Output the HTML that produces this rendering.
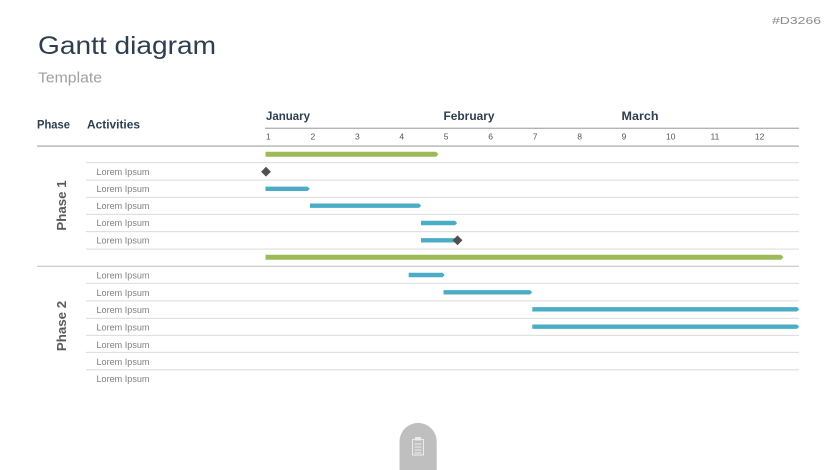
<!DOCTYPE html>
<html>
<head>
<meta charset="utf-8">
<style>
html,body{margin:0;padding:0;background:#fff;}
body{width:836px;height:470px;overflow:hidden;}
svg{display:block;}
text{font-family:"Liberation Sans",sans-serif;}
</style>
</head>
<body>
<svg width="836" height="470" viewBox="0 0 836 470" xmlns="http://www.w3.org/2000/svg">
  <!-- top right code -->
  <text x="772" y="24" font-size="10.5" fill="#8a8a8a" textLength="49" lengthAdjust="spacingAndGlyphs">#D3266</text>
  <!-- title -->
  <text x="38" y="54" font-size="25" fill="#2c3e50" textLength="178" lengthAdjust="spacingAndGlyphs">Gantt diagram</text>
  <text x="38" y="82.5" font-size="15" fill="#a0a0a0" textLength="64" lengthAdjust="spacingAndGlyphs">Template</text>

  <!-- header -->
  <g font-weight="bold" fill="#2d3e50" font-size="11.5">
    <text x="37" y="128.3" textLength="33" lengthAdjust="spacingAndGlyphs">Phase</text>
    <text x="87" y="128.3" textLength="53" lengthAdjust="spacingAndGlyphs">Activities</text>
    <text x="266" y="120" textLength="44" lengthAdjust="spacingAndGlyphs">January</text>
    <text x="443.5" y="120" textLength="51" lengthAdjust="spacingAndGlyphs">February</text>
    <text x="621.5" y="120" textLength="37" lengthAdjust="spacingAndGlyphs">March</text>
  </g>
  <rect x="265" y="127.6" width="534" height="1.4" fill="#b5b5b5"/>
  <g font-size="8.5" fill="#555">
    <text x="266" y="139.3">1</text>
    <text x="310.5" y="139.3">2</text>
    <text x="355" y="139.3">3</text>
    <text x="399.4" y="139.3">4</text>
    <text x="443.8" y="139.3">5</text>
    <text x="488.3" y="139.3">6</text>
    <text x="532.7" y="139.3">7</text>
    <text x="577.2" y="139.3">8</text>
    <text x="621.6" y="139.3">9</text>
    <text x="666" y="139.3">10</text>
    <text x="710.5" y="139.3">11</text>
    <text x="754.9" y="139.3">12</text>
  </g>

  <!-- main lines -->
  <rect x="37" y="145.4" width="762" height="1.4" fill="#b5b5b5"/>
  <rect x="37" y="265.7" width="762" height="1.3" fill="#cfcfcf"/>

  <!-- row separators -->
  <g fill="#e0e0e0">
    <rect x="86" y="162" width="713" height="1.2"/>
    <rect x="86" y="179.5" width="713" height="1.2"/>
    <rect x="86" y="196.8" width="713" height="1.2"/>
    <rect x="86" y="213.8" width="713" height="1.2"/>
    <rect x="86" y="231" width="713" height="1.2"/>
    <rect x="86" y="248.5" width="713" height="1.2"/>
    <rect x="86" y="282.8" width="713" height="1.2"/>
    <rect x="86" y="300.3" width="713" height="1.2"/>
    <rect x="86" y="317.8" width="713" height="1.2"/>
    <rect x="86" y="334.8" width="713" height="1.2"/>
    <rect x="86" y="351.8" width="713" height="1.2"/>
    <rect x="86" y="369.2" width="713" height="1.2"/>
  </g>

  <!-- activity labels -->
  <g font-size="9" fill="#808080">
    <text x="96.5" y="174.9" textLength="53" lengthAdjust="spacingAndGlyphs">Lorem Ipsum</text>
    <text x="96.5" y="191.9" textLength="53" lengthAdjust="spacingAndGlyphs">Lorem Ipsum</text>
    <text x="96.5" y="208.9" textLength="53" lengthAdjust="spacingAndGlyphs">Lorem Ipsum</text>
    <text x="96.5" y="226.2" textLength="53" lengthAdjust="spacingAndGlyphs">Lorem Ipsum</text>
    <text x="96.5" y="243.5" textLength="53" lengthAdjust="spacingAndGlyphs">Lorem Ipsum</text>
    <text x="96.5" y="278.5" textLength="53" lengthAdjust="spacingAndGlyphs">Lorem Ipsum</text>
    <text x="96.5" y="295.9" textLength="53" lengthAdjust="spacingAndGlyphs">Lorem Ipsum</text>
    <text x="96.5" y="313.2" textLength="53" lengthAdjust="spacingAndGlyphs">Lorem Ipsum</text>
    <text x="96.5" y="330.5" textLength="53" lengthAdjust="spacingAndGlyphs">Lorem Ipsum</text>
    <text x="96.5" y="347.9" textLength="53" lengthAdjust="spacingAndGlyphs">Lorem Ipsum</text>
    <text x="96.5" y="364.9" textLength="53" lengthAdjust="spacingAndGlyphs">Lorem Ipsum</text>
    <text x="96.5" y="382.2" textLength="53" lengthAdjust="spacingAndGlyphs">Lorem Ipsum</text>
  </g>

  <!-- phase labels -->
  <g font-size="13.3" font-weight="bold" fill="#595959">
    <text transform="translate(61,205.5) rotate(-90)" x="0" y="4.8" text-anchor="middle">Phase 1</text>
    <text transform="translate(61,326) rotate(-90)" x="0" y="4.8" text-anchor="middle">Phase 2</text>
  </g>

  <!-- green summary bars -->
  <g fill="#9bbb59">
    <path d="M265.5 151.8 L436 151.8 L438.5 154.3 L436 156.8 L265.5 156.8 Z"/>
    <path d="M265.5 254.8 L781 254.8 L783.5 257.3 L781 259.8 L265.5 259.8 Z"/>
  </g>

  <!-- blue bars -->
  <g fill="#4bacc6">
    <path d="M265.5 186.6 L307.5 186.6 L309.8 188.8 L307.5 191 L265.5 191 Z"/>
    <path d="M310 203.5 L419 203.5 L421.2 205.7 L419 207.9 L310 207.9 Z"/>
    <path d="M421 220.8 L455 220.8 L457.2 223 L455 225.2 L421 225.2 Z"/>
    <path d="M421 238.1 L455 238.1 L457.2 240.3 L455 242.5 L421 242.5 Z"/>
    <path d="M408.7 272.8 L442.5 272.8 L444.7 275 L442.5 277.2 L408.7 277.2 Z"/>
    <path d="M443.5 290.1 L530 290.1 L532.2 292.3 L530 294.5 L443.5 294.5 Z"/>
    <path d="M532.3 307.1 L797 307.1 L799.2 309.3 L797 311.5 L532.3 311.5 Z"/>
    <path d="M532.3 324.5 L797 324.5 L799.2 326.7 L797 328.9 L532.3 328.9 Z"/>
  </g>

  <!-- milestones -->
  <g fill="#505050">
    <path d="M266 166.8 L270.9 171.7 L266 176.6 L261.1 171.7 Z"/>
    <path d="M457.5 235.4 L462.4 240.3 L457.5 245.2 L452.6 240.3 Z"/>
  </g>

  <!-- bottom tab -->
  <path d="M399.5 470 L399.5 441.5 A18.6 18.6 0 0 1 436.7 441.5 L436.7 470 Z" fill="#bfbfbf"/>
  <g stroke="#ececec" stroke-width="1" fill="none">
    <rect x="412.5" y="439.5" width="11" height="15.5"/>
    <rect x="415.5" y="437.5" width="5" height="2.5" fill="#ececec"/>
    <line x1="414.5" y1="444" x2="421.5" y2="444"/>
    <line x1="414.5" y1="447" x2="421.5" y2="447"/>
    <line x1="414.5" y1="450" x2="421.5" y2="450"/>
    <line x1="414.5" y1="453" x2="421.5" y2="453"/>
  </g>
</svg>
</body>
</html>
